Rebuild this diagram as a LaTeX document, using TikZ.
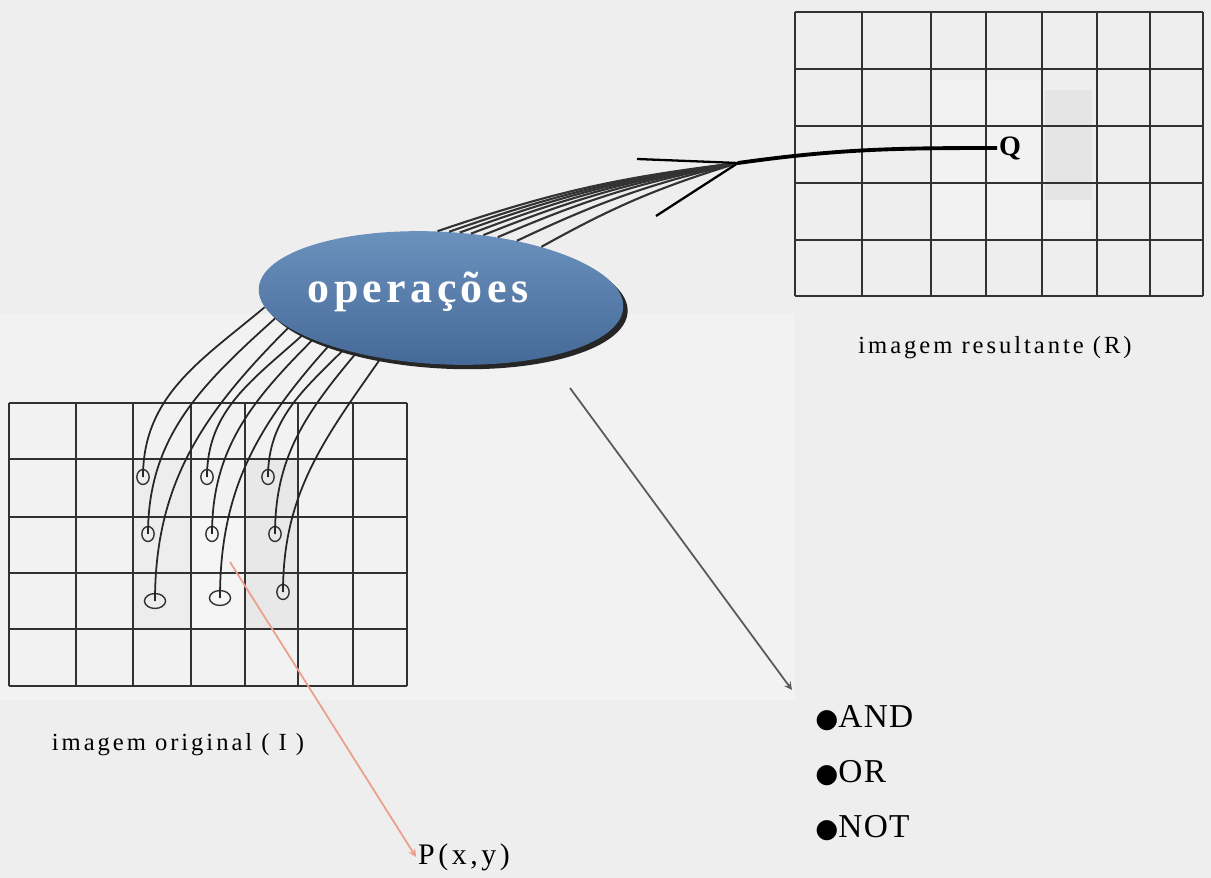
\documentclass[tikz,border=0pt]{standalone}
\usepackage{fontspec}
\setmainfont{Liberation Serif}
\newfontfamily\wideserif[LetterSpace=12]{Liberation Serif}
\newfontfamily\opsfont[LetterSpace=10]{Liberation Serif}
\newfontfamily\listfont[LetterSpace=4]{Liberation Serif}
\newfontfamily\dotfont{DejaVu Sans}
\usepackage{tikz}
\usetikzlibrary{arrows,shapes,positioning,shadows}
\definecolor{bggray}{RGB}{238,238,238}
\definecolor{panelgray}{RGB}{242,242,242}
\definecolor{opsblue}{RGB}{108,146,190}
\definecolor{opsdark}{RGB}{70,106,152}
\definecolor{gridgray}{RGB}{50,50,50}
\definecolor{pxpink}{RGB}{236,160,140}
\tikzstyle{gridline} = [line width=1.2pt, color=gridgray]
\tikzstyle{pix} = [ellipse, draw=black!80, line width=0.8pt, minimum width=7pt, minimum height=8.5pt, inner sep=0pt]
\tikzstyle{pixwide} = [pix, minimum width=12pt]
\tikzstyle{wire} = [line width=1pt, color=black!85]
\tikzstyle{fanwire} = [line width=1.2pt, color=black!80]
\tikzstyle{arrow} = [line width=1pt,->,>=stealth,color=black!65]
\tikzstyle{opsbox} = [ellipse, minimum width=7.3cm, minimum height=2.65cm, top color=opsblue, bottom color=opsdark, drop shadow={shadow xshift=2.5pt, shadow yshift=-2.5pt, fill=black!85, opacity=1}]
\tikzstyle{caption} = [font=\wideserif\fontsize{14}{16}\selectfont]
\tikzstyle{opitem} = [font=\listfont\fontsize{19}{21}\selectfont, anchor=west, inner sep=0pt]

\begin{document}
\begin{tikzpicture}[x=0.02cm, y=-0.02cm]
\useasboundingbox (0,0) rectangle (1211,878);
\fill[bggray] (0,0) rectangle (1211,878);
\fill[panelgray] (0,314) rectangle (795,700);

% shaded pixels
\fill[gray!14] (133,459) rectangle (191,629);
\fill[gray!8] (191,517) rectangle (245,629);
\fill[gray!18] (245,459) rectangle (298,629);
\fill[gray!10] (931,80) rectangle (1042,240);
\fill[gray!20] (1045,90) rectangle (1092,200);
\fill[gray!12] (1042,200) rectangle (1090,240);

% imagem original
\foreach \gx in {9,76,133,191,245,298,353,407}
  \draw[gridline] (\gx,403) -- (\gx,686);
\foreach \gy in {403,459,517,573,629,686}
  \draw[gridline] (9,\gy) -- (407,\gy);

% imagem resultante
\foreach \gx in {795,862,931,986,1042,1097,1150,1203}
  \draw[gridline] (\gx,12) -- (\gx,296);
\foreach \gy in {12,69,126,183,240,296}
  \draw[gridline] (795,\gy) -- (1203,\gy);

\node[opsbox, rotate=-3] (ops) at (441,298) {};
\node[font=\opsfont\bfseries\fontsize{25}{27}\selectfont, text=white] (opslabel) at (418,292) {operações};

\node[pix] (c11) at (143,477) {};
\node[pix] (c12) at (207,477) {};
\node[pix] (c13) at (268,477) {};
\node[pix] (c21) at (148,534) {};
\node[pix] (c22) at (212,534) {};
\node[pix] (c23) at (275,534) {};
\node[pixwide] (c31) at (155,601) {};
\node[pixwide] (c32) at (220,598) {};
\node[pix] (c33) at (283,592) {};

\draw[wire] (c11.center) to[out=90, in=220] (ops.186);
\draw[wire] (c21.center) to[out=90, in=222] (ops.190);
\draw[wire] (c31.center) to[out=90, in=225] (ops.194);
\draw[wire] (c12.center) to[out=90, in=222] (ops.198);
\draw[wire] (c22.center) to[out=90, in=225] (ops.201);
\draw[wire] (c32.center) to[out=90, in=228] (ops.206);
\draw[wire] (c13.center) to[out=90, in=225] (ops.211);
\draw[wire] (c23.center) to[out=90, in=230] (ops.216);
\draw[wire] (c33.center) to[out=90, in=235] (ops.228);

% Q
\node[font=\bfseries\fontsize{16}{18}\selectfont, anchor=west, inner sep=1pt] (q) at (997,148) {Q};
\coordinate (conv) at (738,163);
\coordinate (tailA) at (637,159);
\coordinate (tailB) at (656,216);
\foreach \a in {96,86,77,68,59,50,40,30}
  \draw[fanwire] (ops.\a) to[bend left=6] (conv);
\draw[line width=1.3pt] (tailA) -- (conv);
\draw[line width=1.3pt] (tailB) -- (conv);
\draw[line width=2.2pt] (conv) to[out=8, in=180] (q.west);

\node[caption] (rlabel) at (995,348) {imagem resultante (R)};
\node[caption] (ilabel) at (178,745) {imagem original ( I )};

\node[opitem] (and) at (815,718) {{\dotfont\fontsize{15}{15}\selectfont ●}AND};
\node[opitem, below=1.1cm of and.west, anchor=west] (or) {{\dotfont\fontsize{15}{15}\selectfont ●}OR};
\node[opitem, below=1.1cm of or.west, anchor=west] (not) {{\dotfont\fontsize{15}{15}\selectfont ●}NOT};

\node[font=\wideserif\fontsize{17}{19}\selectfont, anchor=west, inner sep=1pt] (pxy) at (416,857) {P(x,y)};

\coordinate (opsout) at (570,388);
\coordinate (listin) at (792,690);
\draw[arrow] (opsout) -- (listin);
\coordinate (pxstart) at (230,562);
\draw[arrow, color=pxpink] (pxstart) -- (pxy.west);
\end{tikzpicture}
\end{document}
